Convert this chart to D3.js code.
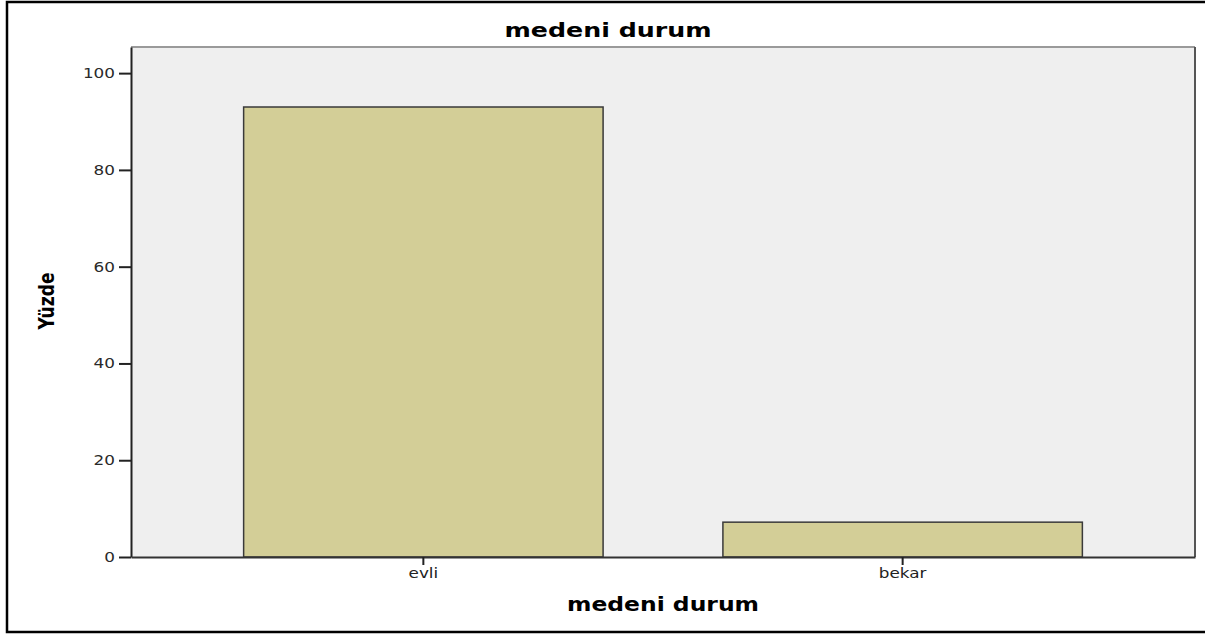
<!DOCTYPE html>
<html>
<head>
<meta charset="utf-8">
<script src="https://cdn.jsdelivr.net/npm/d3@7"></script>
<style>
  body { margin: 0; background: #fff; }
</style>
</head>
<body>
<div id="chart"></div>
<script>
// chart data
const categories = ["evli", "bekar"];
const percents = [93.0, 7.2];
const yTicks = [0, 20, 40, 60, 80, 100];

const width = 1205, height = 635;
const plot = { left: 131, right: 1195, top: 47, bottom: 557 };

const svg = d3.select("#chart").append("svg")
  .attr("width", width)
  .attr("height", height);

// outer frame (right side runs off the picture)
svg.append("rect")
  .attr("x", 7).attr("y", 2)
  .attr("width", 1205).attr("height", 630)
  .attr("fill", "none")
  .attr("stroke", "#000")
  .attr("stroke-width", 2.5);

const x = d3.scaleBand()
  .domain(categories)
  .range([plot.left, plot.right])
  .paddingInner(0.25)
  .paddingOuter(0.235);

const y = d3.scaleLinear()
  .domain([0, 105.4])
  .range([plot.bottom, plot.top]);

// plot background
svg.append("rect")
  .attr("x", plot.left).attr("y", plot.top)
  .attr("width", plot.right - plot.left)
  .attr("height", plot.bottom - plot.top)
  .attr("fill", "#efefef");

// top and right frame lines
svg.append("path")
  .attr("d", `M${plot.left},${plot.top}H${plot.right}`)
  .attr("stroke", "#9a9a9a").attr("stroke-width", 2);
svg.append("path")
  .attr("d", `M${plot.right},${plot.top}V${plot.bottom}`)
  .attr("stroke", "#555").attr("stroke-width", 2);

// bars
svg.selectAll("rect.bar")
  .data(percents)
  .enter()
  .append("rect")
  .attr("class", "bar")
  .attr("x", (d, i) => x(categories[i]))
  .attr("y", d => y(d))
  .attr("width", x.bandwidth())
  .attr("height", d => y(0) - y(d))
  .attr("fill", "#d3ce97")
  .attr("stroke", "#3a3a3a")
  .attr("stroke-width", 1.5);

// the original font is wide, so stretch the labels a bit
function widen(sel, k) {
  sel.each(function () {
    const w = this.getComputedTextLength();
    d3.select(this).attr("textLength", w * k).attr("lengthAdjust", "spacingAndGlyphs");
  });
}

// y axis
const yAxis = svg.append("g")
  .attr("transform", `translate(${plot.left},0)`)
  .call(d3.axisLeft(y).tickValues(yTicks).tickSize(12).tickPadding(4).tickSizeOuter(0));
yAxis.select(".domain").attr("stroke", "#222").attr("stroke-width", 2);
yAxis.selectAll(".tick line").attr("stroke", "#222").attr("stroke-width", 2);
yAxis.selectAll(".tick text")
  .attr("font-family", "DejaVu Sans, sans-serif")
  .attr("font-size", 14)
  .attr("fill", "#2a2a2a")
  .call(widen, 1.2);

// x axis
const xAxis = svg.append("g")
  .attr("transform", `translate(0,${plot.bottom})`)
  .call(d3.axisBottom(x).tickSize(8).tickPadding(3).tickSizeOuter(0));
xAxis.select(".domain").attr("stroke", "#333").attr("stroke-width", 2);
xAxis.selectAll(".tick line").attr("stroke", "#222").attr("stroke-width", 2);
xAxis.selectAll(".tick text")
  .attr("font-family", "DejaVu Sans, sans-serif")
  .attr("font-size", 14)
  .attr("fill", "#222")
  .call(widen, 1.2);

// title
svg.append("text")
  .attr("x", 608).attr("y", 37)
  .attr("text-anchor", "middle")
  .attr("font-family", "DejaVu Sans, sans-serif")
  .attr("font-weight", "bold")
  .attr("font-size", 19)
  .attr("textLength", 207)
  .attr("lengthAdjust", "spacingAndGlyphs")
  .text("medeni durum");

// x axis title
svg.append("text")
  .attr("x", 663).attr("y", 611)
  .attr("text-anchor", "middle")
  .attr("font-family", "DejaVu Sans, sans-serif")
  .attr("font-weight", "bold")
  .attr("font-size", 19)
  .attr("textLength", 192)
  .attr("lengthAdjust", "spacingAndGlyphs")
  .text("medeni durum");

// y axis title
svg.append("text")
  .attr("transform", "translate(54,301) rotate(-90)")
  .attr("text-anchor", "middle")
  .attr("font-family", "Liberation Sans Narrow, DejaVu Sans Condensed, sans-serif")
  .attr("font-weight", "bold")
  .attr("font-size", 21)
  .attr("textLength", 57)
  .attr("lengthAdjust", "spacingAndGlyphs")
  .text("Yüzde");
</script>
</body>
</html>
